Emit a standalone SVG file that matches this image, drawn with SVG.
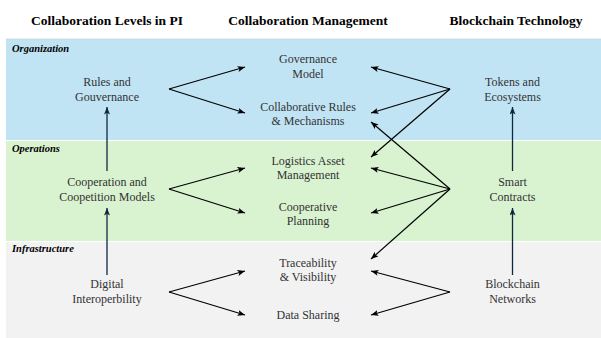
<svg xmlns="http://www.w3.org/2000/svg" width="601" height="338" viewBox="0 0 601 338">
<defs>
<style>
.title{font-family:"Liberation Serif","Times New Roman",serif;font-weight:bold;font-size:13.5px;fill:#000;text-anchor:middle}
.sec{font-family:"Liberation Serif","Times New Roman",serif;font-weight:bold;font-style:italic;font-size:10.5px;fill:#000}
.lbl{font-family:"Liberation Serif","Times New Roman",serif;font-size:12px;fill:#333;text-anchor:middle}
.d{stroke:#000;stroke-width:1.2;fill:none;marker-end:url(#ah)}
.v{stroke:#0e2841;stroke-width:1.3;fill:none;marker-end:url(#av)}
</style>
<marker id="ah" markerUnits="userSpaceOnUse" markerWidth="8" markerHeight="7" refX="7.5" refY="3" orient="auto">
<path d="M0,0 L7.5,3 L0,6 L1.8,3 z" fill="#000"/>
</marker>
<marker id="av" markerUnits="userSpaceOnUse" markerWidth="8" markerHeight="7" refX="7.5" refY="3" orient="auto">
<path d="M0,0 L7.5,3 L0,6 L1.8,3 z" fill="#0e2841"/>
</marker>
</defs>
<rect x="0" y="0" width="601" height="338" fill="#fff"/>
<g id="bands">
<rect x="6" y="39" width="595" height="101" fill="#c1e4f5"/>
<rect x="6" y="141" width="595" height="100" fill="#d9f2d0"/>
<rect x="6" y="242" width="595" height="96" fill="#f2f2f2"/>
<line x1="6" y1="39" x2="601" y2="39" stroke="#ccc" stroke-width="0.6"/>
</g>
<g id="titles">
<text class="title" x="107" y="25">Collaboration Levels in PI</text>
<text class="title" x="308" y="25">Collaboration Management</text>
<text class="title" x="516" y="25">Blockchain Technology</text>
</g>
<g id="sections">
<text class="sec" x="12" y="52">Organization</text>
<text class="sec" x="12" y="152">Operations</text>
<text class="sec" x="12" y="252">Infrastructure</text>
</g>
<g id="rules"><text class="lbl" x="107" y="86">Rules and</text><text class="lbl" x="107" y="101">Gouvernance</text></g>
<g id="coop"><text class="lbl" x="107" y="186">Cooperation and</text><text class="lbl" x="107" y="201">Coopetition Models</text></g>
<g id="digital"><text class="lbl" x="107" y="288">Digital</text><text class="lbl" x="107" y="303">Interoperbility</text></g>
<g id="govmodel"><text class="lbl" x="308" y="63">Governance</text><text class="lbl" x="308" y="78">Model</text></g>
<g id="collabrules"><text class="lbl" x="308" y="111">Collaborative Rules</text><text class="lbl" x="308" y="125">&amp; Mechanisms</text></g>
<g id="logistics"><text class="lbl" x="308" y="165">Logistics Asset</text><text class="lbl" x="308" y="179">Management</text></g>
<g id="planning"><text class="lbl" x="308" y="211">Cooperative</text><text class="lbl" x="308" y="225">Planning</text></g>
<g id="trace"><text class="lbl" x="308" y="267">Traceability</text><text class="lbl" x="308" y="281">&amp; Visibility</text></g>
<g id="datasharing"><text class="lbl" x="308" y="319">Data Sharing</text></g>
<g id="tokens"><text class="lbl" x="512.5" y="86">Tokens and</text><text class="lbl" x="512.5" y="101">Ecosystems</text></g>
<g id="smart"><text class="lbl" x="512.5" y="186">Smart</text><text class="lbl" x="512.5" y="201">Contracts</text></g>
<g id="bcnet"><text class="lbl" x="512.5" y="288">Blockchain</text><text class="lbl" x="512.5" y="303">Networks</text></g>
<g id="connectors">
<line class="v" x1="107" y1="171" x2="107" y2="107"/>
<line class="v" x1="107" y1="275" x2="107" y2="208"/>
<line class="v" x1="512.5" y1="171" x2="512.5" y2="107"/>
<line class="v" x1="512.5" y1="275" x2="512.5" y2="208"/>
<line class="d" x1="169" y1="89" x2="245" y2="67"/>
<line class="d" x1="169" y1="89" x2="245" y2="113"/>
<line class="d" x1="169" y1="189" x2="245" y2="168"/>
<line class="d" x1="169" y1="189" x2="245" y2="213"/>
<line class="d" x1="169" y1="292" x2="245" y2="271"/>
<line class="d" x1="169" y1="292" x2="245" y2="315"/>
<line class="d" x1="450" y1="89" x2="371" y2="67"/>
<line class="d" x1="450" y1="89" x2="371" y2="113"/>
<line class="d" x1="450" y1="89" x2="371" y2="157"/>
<line class="d" x1="450" y1="189" x2="371" y2="122"/>
<line class="d" x1="450" y1="189" x2="371" y2="168"/>
<line class="d" x1="450" y1="189" x2="371" y2="213"/>
<line class="d" x1="450" y1="189" x2="371" y2="259"/>
<line class="d" x1="450" y1="292" x2="371" y2="271"/>
<line class="d" x1="450" y1="292" x2="371" y2="315"/>
</g>
</svg>
